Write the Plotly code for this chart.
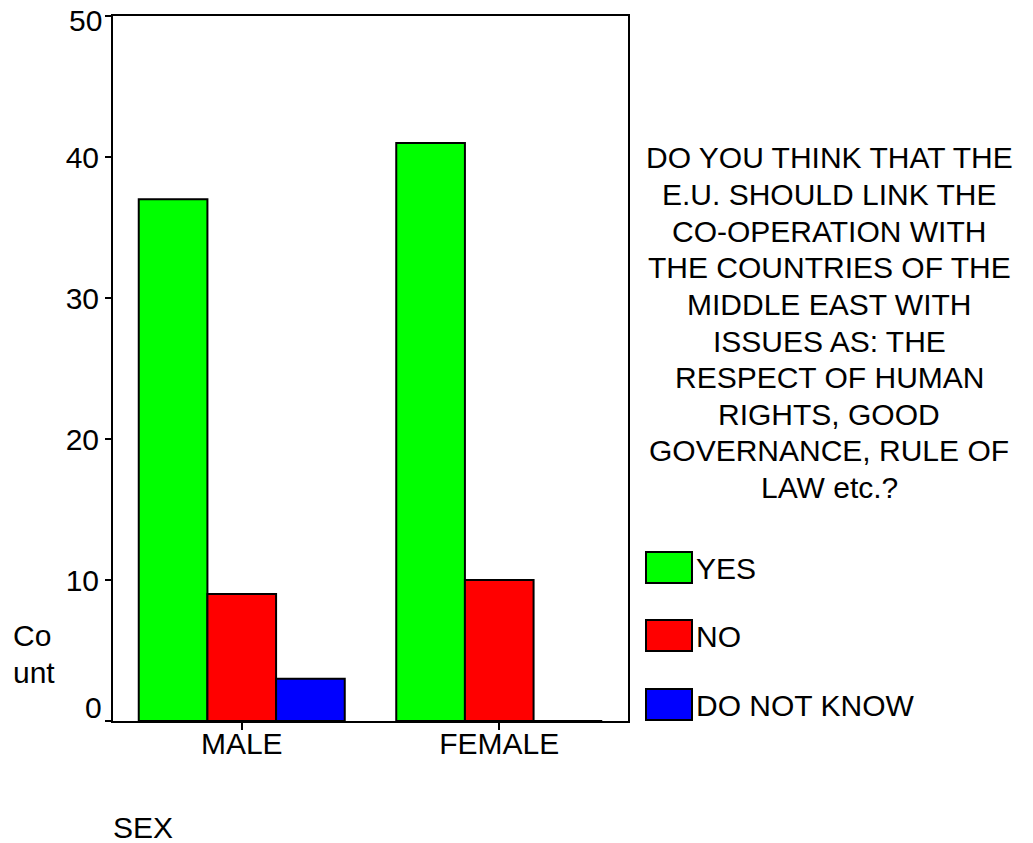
import plotly.graph_objects as go

categories = ["MALE", "FEMALE"]
series_names = ["YES", "NO", "DO NOT KNOW"]
yes_vals = [37, 41]
no_vals = [9, 10]
dnk_vals = [3, 0]
colors = ["#00FF00", "#FF0000", "#0000FF"]
y_ticks = [0, 10, 20, 30, 40, 50]
legend_title_lines = ["DO YOU THINK THAT THE", "E.U. SHOULD LINK THE", "CO-OPERATION WITH",
                      "THE COUNTRIES OF THE", "MIDDLE EAST WITH", "ISSUES AS: THE",
                      "RESPECT OF HUMAN", "RIGHTS, GOOD", "GOVERNANCE, RULE OF", "LAW etc.?"]
y_title_lines = ["Co", "unt"]
x_title = "SEX"

W, H = 1033, 843
L, R, T, B = 113, 405, 16, 122
PW, PH = W - L - R, H - T - B
FONT = "Liberation Sans, Arial, sans-serif"
FS = 30


def px(x):
    return (x - L) / PW


def py(y):
    return (H - B - y) / PH


def txt(text, x, y, xanchor="left"):
    return dict(text=text, xref="paper", yref="paper", x=px(x), y=py(y),
                xanchor=xanchor, yanchor="middle", showarrow=False,
                font=dict(family=FONT, size=FS, color="black"))


fig = go.Figure()
for name, vals, col in zip(series_names, [yes_vals, no_vals, dnk_vals], colors):
    fig.add_trace(go.Bar(x=categories, y=vals, name=name, marker_color=col,
                         marker_line=dict(color="black", width=2), showlegend=False))

shapes = []
annotations = []
# custom legend
box_tops = [552, 620, 689]
for name, col, top in zip(series_names, colors, box_tops):
    shapes.append(dict(type="rect", xref="paper", yref="paper",
                       x0=px(646), x1=px(692), y0=py(top), y1=py(top + 31),
                       fillcolor=col, line=dict(color="black", width=2)))
    annotations.append(txt(name, 694, top + 16))

for i, line in enumerate(legend_title_lines):
    annotations.append(txt(line, 829, 158 + 36.6 * i, "center"))
for i, line in enumerate(y_title_lines):
    annotations.append(txt(line, 11, 635 + 37 * i))
annotations.append(txt(x_title, 111, 828))
# end tick labels are nudged inside the figure in the original
for val, shift in [(y_ticks[0], 14), (y_ticks[-1], -4)]:
    annotations.append(dict(text=str(val), xref="paper", yref="y", x=px(104), y=val,
                            yshift=shift, xanchor="right", yanchor="middle", showarrow=False,
                            font=dict(family=FONT, size=FS, color="black")))

fig.update_layout(
    width=W, height=H,
    margin=dict(l=L, r=R, t=T, b=B, pad=0),
    paper_bgcolor="white", plot_bgcolor="white",
    barmode="group", bargap=0.2, bargroupgap=0,
    font=dict(family=FONT, size=FS, color="black"),
    shapes=shapes, annotations=annotations,
    xaxis=dict(showline=True, linecolor="black", linewidth=2, mirror=True,
               ticks="outside", ticklen=7, tickwidth=2, tickcolor="black",
               ticklabelstandoff=-12, automargin=False,
               showgrid=False, zeroline=False),
    yaxis=dict(range=[0, 50], tickvals=y_ticks,
               ticktext=[""] + [str(v) for v in y_ticks[1:-1]] + [""],
               showline=True, linecolor="black", linewidth=2, automargin=False,
               mirror=True, ticks="outside", ticklen=6, tickwidth=2, tickcolor="black",
               showgrid=False, zeroline=False),
)
fig.write_html("out.html")
